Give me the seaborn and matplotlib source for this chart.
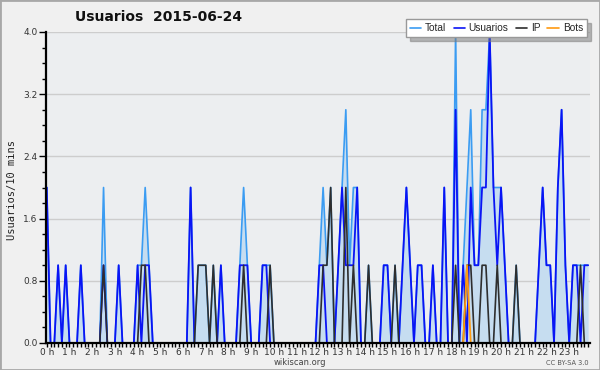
import numpy as np
import pandas as pd
import matplotlib
matplotlib.use("Agg")
import matplotlib.pyplot as plt
import seaborn as sns
from matplotlib.lines import Line2D
from matplotlib.patches import Rectangle
from matplotlib.ticker import MultipleLocator, FixedLocator, FormatStrFormatter

# --- Data: one value per 10 minutes (6 per hour, 4 hours per row) ---
usuarios = [
    2, 0, 0, 1, 0, 1, 0, 0, 0, 1, 0, 0, 0, 0, 0, 1, 0, 0, 0, 1, 0, 0, 0, 0,
    1, 0, 1, 1, 0, 0, 0, 0, 0, 0, 0, 0, 0, 0, 2, 0, 0, 0, 0, 0, 0, 0, 1, 0,
    0, 0, 0, 1, 1, 1, 0, 0, 0, 1, 1, 0, 0, 0, 0, 0, 0, 0, 0, 0, 0, 0, 0, 0,
    1, 1, 0, 0, 0, 1, 2, 1, 1, 1, 2, 0, 0, 0, 0, 0, 0, 1, 1, 0, 0, 0, 1, 2,
    1, 0, 1, 1, 0, 0, 1, 0, 0, 2, 0, 0, 3, 0, 1, 0, 2, 1, 1, 2, 2, 4, 2, 1,
    2, 1, 0, 0, 0, 0, 0, 0, 0, 0, 1, 2, 1, 1, 0, 2, 3, 1, 0, 1, 1, 0, 1, 1,
]
ip = [
    0, 0, 0, 0, 0, 0, 0, 0, 0, 0, 0, 0, 0, 0, 0, 1, 0, 0, 0, 0, 0, 0, 0, 0,
    0, 1, 1, 0, 0, 0, 0, 0, 0, 0, 0, 0, 0, 0, 0, 0, 1, 1, 1, 0, 1, 0, 0, 0,
    0, 0, 0, 0, 1, 0, 0, 0, 0, 0, 0, 1, 0, 0, 0, 0, 0, 0, 0, 0, 0, 0, 0, 0,
    0, 1, 1, 2, 0, 0, 0, 2, 0, 1, 0, 0, 0, 1, 0, 0, 0, 0, 0, 0, 1, 0, 0, 0,
    0, 0, 0, 0, 0, 0, 0, 0, 0, 0, 0, 0, 1, 0, 0, 1, 1, 0, 0, 1, 1, 0, 0, 1,
    0, 0, 0, 0, 1, 0, 0, 0, 0, 0, 0, 0, 0, 0, 0, 0, 0, 0, 0, 0, 0, 1, 0, 0,
]
bots = [
    0, 0, 0, 0, 0, 0, 0, 0, 0, 0, 0, 0, 0, 0, 0, 0, 0, 0, 0, 0, 0, 0, 0, 0,
    0, 0, 0, 0, 0, 0, 0, 0, 0, 0, 0, 0, 0, 0, 0, 0, 0, 0, 0, 0, 0, 0, 0, 0,
    0, 0, 0, 0, 0, 0, 0, 0, 0, 0, 0, 0, 0, 0, 0, 0, 0, 0, 0, 0, 0, 0, 0, 0,
    0, 0, 0, 0, 0, 0, 0, 0, 0, 0, 0, 0, 0, 0, 0, 0, 0, 0, 0, 0, 0, 0, 0, 0,
    0, 0, 0, 0, 0, 0, 0, 0, 0, 0, 0, 0, 0, 0, 0, 1, 0, 0, 0, 0, 0, 0, 0, 0,
    0, 0, 0, 0, 0, 0, 0, 0, 0, 0, 0, 0, 0, 0, 0, 0, 0, 0, 0, 0, 0, 0, 0, 0,
]
total = [
    2, 0, 0, 1, 0, 1, 0, 0, 0, 1, 0, 0, 0, 0, 0, 2, 0, 0, 0, 1, 0, 0, 0, 0,
    1, 1, 2, 1, 0, 0, 0, 0, 0, 0, 0, 0, 0, 0, 2, 0, 1, 1, 1, 0, 1, 0, 1, 0,
    0, 0, 0, 1, 2, 1, 0, 0, 0, 1, 1, 1, 0, 0, 0, 0, 0, 0, 0, 0, 0, 0, 0, 0,
    1, 2, 1, 2, 0, 1, 2, 3, 1, 2, 2, 0, 0, 1, 0, 0, 0, 1, 1, 0, 1, 0, 1, 2,
    1, 0, 1, 1, 0, 0, 1, 0, 0, 2, 0, 0, 4, 0, 1, 2, 3, 1, 1, 3, 3, 4, 2, 2,
    2, 1, 0, 0, 1, 0, 0, 0, 0, 0, 1, 2, 1, 1, 0, 2, 3, 1, 0, 1, 1, 1, 1, 1,
]
hour_labels = [f"{h} h" for h in range(24)]

# --- Colors ---
C_TOTAL = '#3b9cf2'
C_FILL = '#c6ddf0'
C_USERS = '#0a14f5'
C_IP = '#2e2e2e'
C_BOTS = '#ff9a10'
BG = '#f0f0f0'
PLOT_BG = '#eceef0'

sns.set_theme(style="white")
plt.rcParams['font.family'] = ['DejaVu Sans']

df = pd.DataFrame({
    'slot': np.arange(len(total)),
    'Total': total,
    'Usuarios': usuarios,
    'IP': ip,
    'Bots': bots,
})

fig = plt.figure(figsize=(6, 3.7), dpi=100, facecolor=BG)
ax = fig.add_axes([46 / 600, 27 / 370, 544 / 600, 311 / 370], facecolor=PLOT_BG)

# grid under everything
for yv in np.arange(0.8, 4.01, 0.8):
    ax.axhline(yv, color='#cdcdcd', lw=1, zorder=0)

ax.fill_between(df['slot'], df['Total'], color=C_FILL, lw=0, zorder=1)
sns.lineplot(data=df, x='slot', y='Total', ax=ax, color=C_TOTAL, lw=1.2, zorder=2)
sns.lineplot(data=df, x='slot', y='Usuarios', ax=ax, color=C_USERS, lw=1.3, zorder=3)
sns.lineplot(data=df, x='slot', y='IP', ax=ax, color=C_IP, lw=1.2, zorder=4)
sns.lineplot(data=df, x='slot', y='Bots', ax=ax, color=C_BOTS, lw=1.3, zorder=5)

ax.set_xlim(-0.2, len(total) - 0.5)
ax.set_ylim(0, 4.0)
ax.set_xlabel('')
ax.set_ylabel('')

# axes styling: spines on top so zero-valued lines hide behind them
for side in ['top', 'right']:
    ax.spines[side].set_visible(False)
for side in ['left', 'bottom']:
    ax.spines[side].set_color('black')
    ax.spines[side].set_linewidth(1.6)
    ax.spines[side].set_zorder(10)

ax.xaxis.set_major_locator(FixedLocator(np.arange(0, 144, 6)))
ax.set_xticklabels(hour_labels)
ax.xaxis.set_minor_locator(MultipleLocator(1))
ax.yaxis.set_major_locator(MultipleLocator(0.8))
ax.yaxis.set_minor_locator(MultipleLocator(0.2))
ax.yaxis.set_major_formatter(FormatStrFormatter('%.1f'))
ax.tick_params(axis='x', which='both', direction='out', length=3, width=1,
               color='black', labelsize=6.5, labelcolor='#333333', pad=0.5)
ax.tick_params(axis='y', which='major', direction='out', length=5, width=1,
               color='black', labelsize=6.5, labelcolor='#333333', pad=1)
ax.tick_params(axis='y', which='minor', direction='out', length=3, width=1, color='black')
ax.tick_params(bottom=True, left=True, which='both')

# --- Texts ---
fig.text(75 / 600, 1 - 17 / 370, 'Usuarios  2015-06-24', fontsize=10,
         fontweight='bold', va='center', ha='left', color='#111111')
fig.text(12 / 600, 1 - 190 / 370, 'Usuarios/10 mins', rotation=90,
         family='DejaVu Sans Mono', fontsize=7.5, va='center', ha='center', color='#222222')
fig.text(0.5, 1 - 362.5 / 370, 'wikiscan.org', fontsize=6, ha='center', va='center', color='#444444')
fig.text(589 / 600, 1 - 363 / 370, 'CC BY-SA 3.0', fontsize=4.8, ha='right', va='center', color='#555555')

handles = [Line2D([], [], color=c, lw=1.2) for c in [C_TOTAL, C_USERS, C_IP, C_BOTS]]
leg = fig.legend(handles, ['Total', 'Usuarios', 'IP', 'Bots'], ncol=4,
                 loc='upper right', bbox_to_anchor=(587 / 600, 1 - 19 / 370),
                 frameon=True, fancybox=False, shadow={'color': '#7a7a7a', 'ox': 3, 'oy': -3},
                 prop={'family': 'Liberation Sans', 'size': 7.3},
                 handlelength=1.1, handletextpad=0.4, columnspacing=0.7,
                 borderpad=0.4, borderaxespad=0)
leg.get_frame().set_facecolor('white')
leg.get_frame().set_edgecolor('#999999')
leg.get_frame().set_alpha(1)

# outer border
fig.patches.append(Rectangle((0, 0), 1, 1, transform=fig.transFigure, fill=False,
                             edgecolor='#a8a8a8', lw=2))

fig.savefig('out.png', dpi=100, facecolor=BG)
